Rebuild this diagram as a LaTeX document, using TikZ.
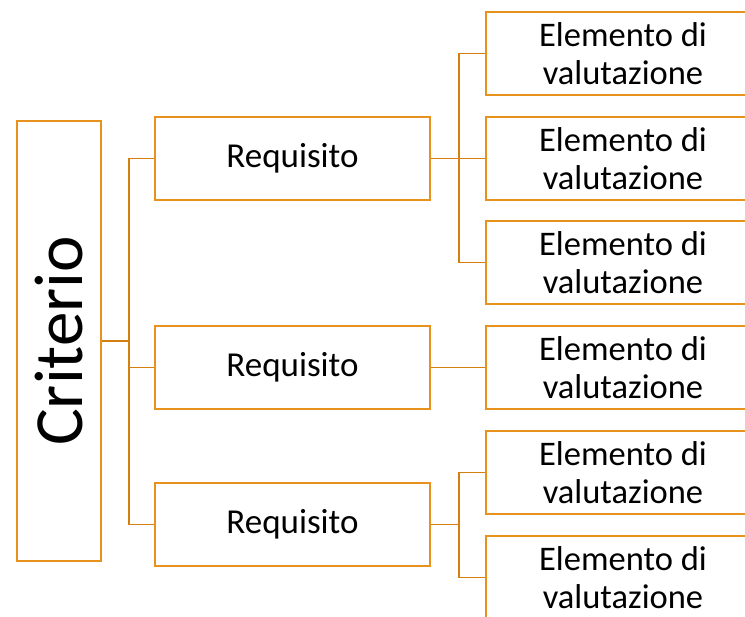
\documentclass[tikz,border=0pt]{standalone}
\usepackage{fontspec}
\setmainfont{Carlito}
\usepackage{tikz}
\usetikzlibrary{positioning}

\definecolor{boxorange}{RGB}{232,146,30}
\definecolor{lineorange}{RGB}{212,128,16}

\tikzset{
  box/.style={draw=boxorange, line width=1.6pt, rectangle, align=center, inner sep=0pt},
  reqbox/.style={box, minimum width=275, minimum height=83, font=\fontsize{35}{40}\selectfont},
  elbox/.style={box, minimum width=274, minimum height=83, font=\fontsize{34.5}{38}\selectfont},
  link/.style={draw=lineorange, line width=1.6pt}
}

\begin{document}
\begin{tikzpicture}[x=1pt,y=-1pt]
  \useasboundingbox (0,0) rectangle (745,617);
  % criterio
  \node[box, rotate=90, minimum width=440, minimum height=84, font=\fontsize{69}{72}\selectfont](crit) at (59,341) {Criterio};
  % requisiti
  \node[reqbox](req1) at (292.5,158.5) {Requisito};
  \node[reqbox](req2) at (292.5,367.5) {Requisito};
  \node[reqbox](req3) at (292.5,524.5) {Requisito};
  % elementi
  \node[elbox](el1) at (623,53.5) {Elemento di\\valutazione};
  \node[elbox](el2) at (623,158.5) {Elemento di\\valutazione};
  \node[elbox](el3) at (623,262.5) {Elemento di\\valutazione};
  \node[elbox](el4) at (623,367.5) {Elemento di\\valutazione};
  \node[elbox](el5) at (623,472.5) {Elemento di\\valutazione};
  \node[elbox](el6) at (623,577.5) {Elemento di\\valutazione};
  % connettori
  \draw[link] (crit.south) -- ++(27,0) coordinate (bus0);
  \draw[link] (bus0) |- (req1.west);
  \draw[link] (bus0) |- (req2.west);
  \draw[link] (bus0) |- (req3.west);
  \draw[link] (req1.east) -- ++(28,0) coordinate (bus1);
  \draw[link] (bus1) |- (el1.west);
  \draw[link] (bus1) |- (el2.west);
  \draw[link] (bus1) |- (el3.west);
  \draw[link] (req2.east) -- (el4.west);
  \draw[link] (req3.east) -- ++(28,0) coordinate (bus3);
  \draw[link] (bus3) |- (el5.west);
  \draw[link] (bus3) |- (el6.west);
\end{tikzpicture}
\end{document}
